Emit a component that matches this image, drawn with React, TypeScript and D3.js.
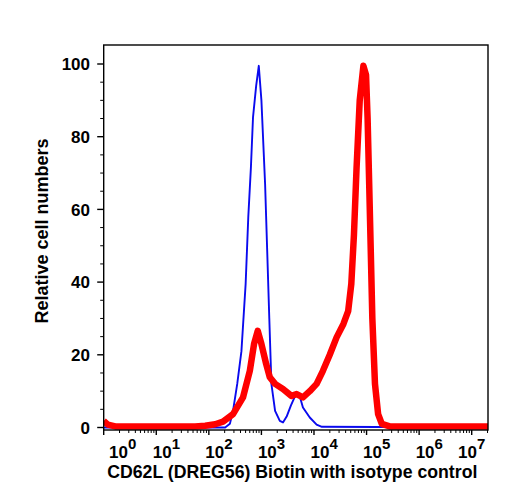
import React from 'react';
import * as d3 from 'd3';

// channel position in decades (log10 of intensity) and relative counts
const isotypeDecades = [0, 2.31, 2.4, 2.46, 2.54, 2.62, 2.7, 2.75, 2.8, 2.84, 2.9, 2.95, 3.0, 3.07, 3.11, 3.15, 3.19, 3.26, 3.35, 3.41, 3.48, 3.56, 3.67, 3.73, 3.79, 3.92, 4.05, 4.15, 7.31];
const isotypeCounts = [0, 0, 1, 4.6, 12, 21, 39.5, 57.8, 71.5, 85.3, 94, 99.5, 90, 67, 48.6, 30, 12, 4.6, 1.8, 1.4, 3, 6, 9.6, 8.5, 5.5, 2.75, 0.8, 0.2, 0];

const stainDecades = [0, 0.08, 0.22, 1.74, 1.93, 2.12, 2.27, 2.46, 2.65, 2.78, 2.86, 2.93, 3.0, 3.09, 3.16, 3.26, 3.41, 3.57, 3.67, 3.79, 3.92, 4.05, 4.17, 4.3, 4.43, 4.56, 4.65, 4.71, 4.76, 4.81, 4.87, 4.94, 4.99, 5.02, 5.05, 5.08, 5.11, 5.16, 5.22, 5.29, 5.44, 7.31];
const stainCounts = [1.8, 0.8, 0.3, 0.3, 0.5, 0.9, 1.6, 3.7, 8.3, 15.6, 23, 26.6, 23, 17.5, 13.8, 12, 10.6, 8.7, 9.2, 8.3, 10, 12, 15.6, 20, 24.8, 28.5, 32, 39.5, 53, 71.5, 90, 99.5, 97, 85, 67, 48.6, 30, 12, 3.7, 1.0, 0.3, 0.3];

const xMajorExps = [0, 1, 2, 3, 4, 5, 6, 7];
const yMajorTicks = [0, 20, 40, 60, 80, 100];
const yMinorTicks = [5, 10, 15, 25, 30, 35, 45, 50, 55, 65, 70, 75, 85, 90, 95];

const xTitle = 'CD62L (DREG56) Biotin with isotype control';
const yTitle = 'Relative cell numbers';

const W = 508;
const H = 500;
const frame = { left: 103.7, right: 488, top: 45, bottom: 430 };

const font = '"Liberation Sans", Arial, Helvetica, sans-serif';

export default function App() {
  const x = d3.scaleLog().domain([1, Math.pow(10, 7.31)]).range([frame.left, frame.right]);
  const y = d3.scaleLinear().domain([0, 100]).range([427.5, 64]);

  const line = d3
    .line<[number, number]>()
    .x((d) => x(Math.pow(10, d[0])))
    .y((d) => y(d[1]));

  const isoPath = line(isotypeDecades.map((d, i) => [d, isotypeCounts[i]]));
  const stainPath = line(stainDecades.map((d, i) => [d, stainCounts[i]]));

  const minorX: number[] = [];
  xMajorExps.forEach((e) => {
    for (let k = 2; k <= 9; k++) {
      const v = k * Math.pow(10, e);
      if (x(v) <= frame.right) minorX.push(v);
    }
  });

  // tick labels sit slightly left of the tick, clamped inside the axis ends
  const labelX = (e: number) => {
    const px = x(Math.pow(10, e)) - 3.5;
    return Math.min(Math.max(px, 109), 458);
  };

  return (
    <svg width={W} height={H} style={{ position: 'absolute', left: 0, top: 0, background: '#fff' }}>
      <defs>
        <clipPath id="plot">
          <rect x={frame.left} y={frame.top} width={frame.right - frame.left} height={frame.bottom - frame.top} />
        </clipPath>
      </defs>

      <g clipPath="url(#plot)">
        <path d={isoPath || ''} fill="none" stroke="#0a0aee" strokeWidth={1.9} strokeLinejoin="round" />
        <path d={stainPath || ''} fill="none" stroke="#ff0000" strokeWidth={6.5} strokeLinejoin="round" />
      </g>

      {/* frame */}
      <rect
        x={frame.left}
        y={frame.top}
        width={frame.right - frame.left}
        height={frame.bottom - frame.top}
        fill="none"
        stroke="#000"
        strokeWidth={1.4}
      />

      {/* y axis */}
      {yMajorTicks.map((t) => (
        <g key={'ym' + t}>
          <line x1={frame.left - 6.5} x2={frame.left} y1={y(t)} y2={y(t)} stroke="#000" strokeWidth={1.4} />
          <text
            x={90}
            y={y(t)}
            dy="0.36em"
            textAnchor="end"
            fontFamily={font}
            fontWeight="bold"
            fontSize={17}
          >
            {t}
          </text>
        </g>
      ))}
      {yMinorTicks.map((t) => (
        <line key={'yn' + t} x1={frame.left - 3.5} x2={frame.left} y1={y(t)} y2={y(t)} stroke="#000" strokeWidth={1} />
      ))}

      {/* x axis */}
      {xMajorExps.map((e) => (
        <g key={'xm' + e}>
          <line
            x1={x(Math.pow(10, e))}
            x2={x(Math.pow(10, e))}
            y1={frame.bottom}
            y2={frame.bottom + 5}
            stroke="#000"
            strokeWidth={1.4}
          />
          <text x={labelX(e)} y={457.5} fontFamily={font} fontWeight="bold" fontSize={17}>
            10
            <tspan fontSize={15} dy={-8.5}>
              {e}
            </tspan>
          </text>
        </g>
      ))}
      {minorX.map((v, i) => (
        <line key={'xn' + i} x1={x(v)} x2={x(v)} y1={frame.bottom} y2={frame.bottom + 3} stroke="#000" strokeWidth={1} />
      ))}

      {/* titles */}
      <text x={292.3} y={478} textAnchor="middle" fontFamily={font} fontWeight="bold" fontSize={17.7}>
        {xTitle}
      </text>
      <text
        transform={`translate(48,231) rotate(-90)`}
        textAnchor="middle"
        fontFamily={font}
        fontWeight="bold"
        fontSize={18}
      >
        {yTitle}
      </text>
    </svg>
  );
}
